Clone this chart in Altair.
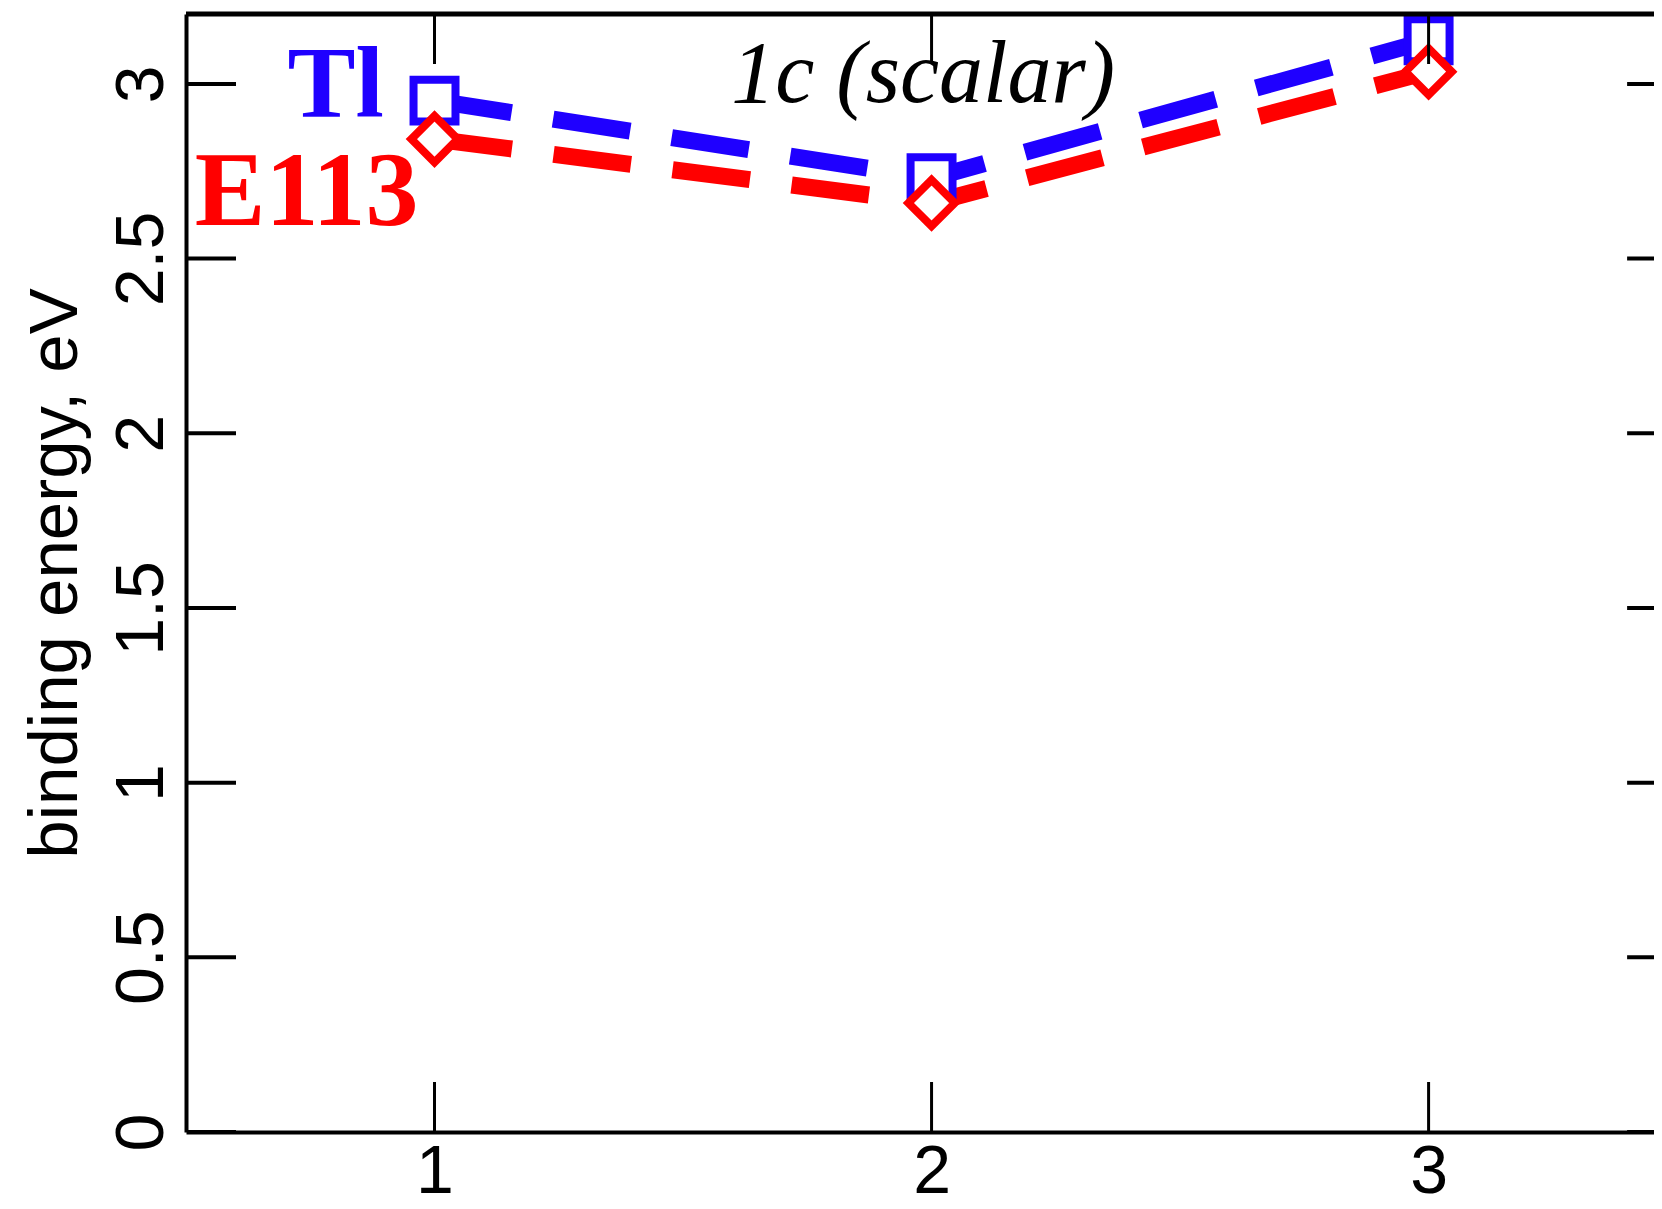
import altair as alt
import pandas as pd

# ---- data ----
n_atoms = [1, 2, 3]
tl_energy = [2.952, 2.730, 3.125]
e113_energy = [2.842, 2.659, 3.035]
series_names = ["Tl", "E113"]
series_colors = ["#1f00ff", "#ff0000"]
series_shapes = ["square", "diamond"]

y_tick_values = [0, 0.5, 1, 1.5, 2, 2.5, 3]
x_tick_values = [1, 2, 3]

label_texts = ["Tl", "E113"]
label_x = [0.898, 0.968]
label_y = [2.906, 2.597]
label_sizes = [102, 106]

caption_text = ["1c (scalar)"]
caption_x = [1.983]
caption_y = [2.948]

X_DOMAIN = [0.5, 3.4535]
Y_DOMAIN = [0, 3.2]
X_FRAME = [0.5, 3.5]

# ---- tables ----
df = pd.DataFrame({
    "n": n_atoms * 2,
    "energy": tl_energy + e113_energy,
    "element": [series_names[0]] * 3 + [series_names[1]] * 3,
})
ytick_df = pd.DataFrame({"v": y_tick_values})
xtick_df = pd.DataFrame({"v": x_tick_values})
labels_df = pd.DataFrame({"t": label_texts, "x": label_x, "y": label_y,
                          "element": series_names, "fs": label_sizes})
caption_df = pd.DataFrame({"t": caption_text, "x": caption_x, "y": caption_y})
frame_df = pd.DataFrame({"edge": [Y_DOMAIN[1]]})

xs = alt.Scale(domain=X_DOMAIN, nice=False, zero=False)
ys = alt.Scale(domain=Y_DOMAIN, nice=False, zero=False)
color_scale = alt.Scale(domain=series_names, range=series_colors)

x_axis = alt.Axis(
    values=x_tick_values, format="~g", ticks=False, tickSize=0, grid=False,
    domainColor="black", domainWidth=4, labelFont="Liberation Sans",
    labelFontSize=68, labelColor="black", labelPadding=60,
    labelBaseline="alphabetic", labelAlign="center", labelFlush=False,
    labelOverlap=False, title=None,
)
y_axis = alt.Axis(
    values=y_tick_values, format="~g", ticks=False, tickSize=0, grid=False,
    domainColor="black", domainWidth=4, labelFont="Liberation Sans",
    labelFontSize=68, labelColor="black", labelPadding=24, labelAngle=270,
    labelAlign="center", labelBaseline="alphabetic", labelFlush=False,
    labelOverlap=False, title="binding energy, eV", titleFont="Liberation Sans",
    titleFontSize=69, titleFontWeight="normal", titleColor="black",
    titleAngle=270, titleAlign="center", titleBaseline="alphabetic",
    titleX=-110, titleY=559,
)


def X(field):
    return alt.X(field, scale=xs, axis=x_axis)


def Y(field):
    return alt.Y(field, scale=ys, axis=y_axis)


lines = alt.Chart(df).mark_line(strokeWidth=17, strokeDash=[78, 42], clip=True).encode(
    x=X("n:Q"),
    y=Y("energy:Q"),
    color=alt.Color("element:N", scale=color_scale, legend=None),
    order=alt.Order("n:Q"),
)

points = alt.Chart(df).mark_point(filled=False, fill="white", strokeWidth=8, opacity=1).encode(
    x=X("n:Q"),
    y=Y("energy:Q"),
    color=alt.Color("element:N", scale=color_scale, legend=None),
    shape=alt.Shape("element:N", scale=alt.Scale(domain=series_names, range=series_shapes), legend=None),
    size=alt.Size("element:N", scale=alt.Scale(domain=series_names, range=[1760, 2150]), legend=None),
)

left_ticks = alt.Chart(ytick_df).mark_tick(orient="horizontal", size=100, thickness=4, color="black", opacity=1, clip=True).encode(
    x=alt.XDatum(X_FRAME[0], scale=xs, axis=x_axis),
    y=Y("v:Q"),
)
right_ticks = alt.Chart(ytick_df).mark_tick(orient="horizontal", size=100, thickness=4, color="black", opacity=1, clip=True).encode(
    x=alt.XDatum(X_FRAME[1], scale=xs, axis=x_axis),
    y=Y("v:Q"),
)
bottom_ticks = alt.Chart(xtick_df).mark_tick(orient="vertical", size=100, thickness=3, color="black", opacity=1, clip=True).encode(
    x=X("v:Q"),
    y=alt.YDatum(Y_DOMAIN[0], scale=ys, axis=y_axis),
)
top_ticks = alt.Chart(xtick_df).mark_tick(orient="vertical", size=100, thickness=3, color="black", opacity=1, clip=True).encode(
    x=X("v:Q"),
    y=alt.YDatum(Y_DOMAIN[1], scale=ys, axis=y_axis),
)

top_frame = alt.Chart(frame_df).mark_rule(strokeWidth=5, color="black").encode(
    y=Y("edge:Q"),
)

labels = alt.Chart(labels_df).mark_text(
    font="Liberation Serif", fontWeight="bold", align="right", baseline="alphabetic"
).encode(
    x=X("x:Q"),
    y=Y("y:Q"),
    text="t:N",
    size=alt.Size("fs:Q", scale=None, legend=None),
    color=alt.Color("element:N", scale=color_scale, legend=None),
)

caption = alt.Chart(caption_df).mark_text(
    font="Liberation Serif", fontStyle="italic", fontSize=88, align="center", baseline="alphabetic", color="black"
).encode(
    x=X("x:Q"),
    y=Y("y:Q"),
    text="t:N",
)

chart = alt.layer(
    lines, points, left_ticks, right_ticks, bottom_ticks, top_ticks, top_frame, labels, caption
).properties(
    width=1468,
    height=1118,
    padding={"left": 178, "top": 6, "right": 0, "bottom": 80},
    autosize=alt.AutoSizeParams(type="none"),
    background="white",
).configure_view(stroke=None)

chart.save("out.html", embed_options={"renderer": "svg", "actions": False})
